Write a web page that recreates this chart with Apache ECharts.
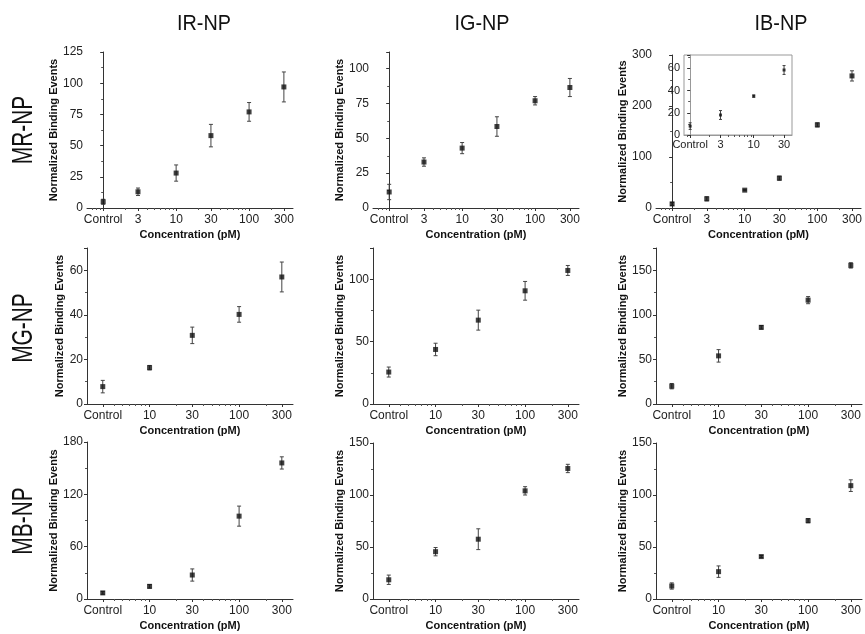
<!DOCTYPE html>
<html>
<head>
<meta charset="utf-8">
<script src="https://cdn.jsdelivr.net/npm/echarts@6/dist/echarts.min.js"></script>
<style>
  html, body { margin: 0; padding: 0; background: #fff; }
  #chart { width: 865px; height: 634px; }
</style>
</head>
<body>
<div id="chart"></div>
<script>
const FONT = '"Liberation Sans", Arial, Helvetica, sans-serif';

// Concentrations (pM) at which each point is plotted; "Control" sits one step left of the lowest dose
const concRow1 = [1, 3, 10, 30, 100, 300];
const labelsRow1 = ['Control', '3', '10', '30', '100', '300'];
const concRows23 = [3, 10, 30, 100, 300];
const labelsRows23 = ['Control', '10', '30', '100', '300'];
const insetConc = [1, 3, 10, 30];
const insetLabels = ['Control', '3', '10', '30'];

const columnTitles = ['IR-NP', 'IG-NP', 'IB-NP'];
const rowTitles = ['MR-NP', 'MG-NP', 'MB-NP'];

// Normalized binding events (mean) and error-bar half widths
const mrIrMean = [5, 13, 28, 58, 77, 97];
const mrIrErr  = [2, 3, 6.5, 9, 7.5, 12];
const mrIgMean = [11.5, 33, 43, 58.5, 77, 86.5];
const mrIgErr  = [5.5, 3, 4, 7, 3, 6.5];
const mrIbMean = [8, 18, 35, 58.5, 163, 259];
const mrIbErr  = [3, 4, 1, 4, 4, 10];

const mgIrMean = [7.8, 16.3, 30.8, 40.2, 57];
const mgIrErr  = [2.8, 1, 3.7, 3.5, 6.7];
const mgIgMean = [25.6, 43.7, 67.2, 90.7, 107];
const mgIgErr  = [4, 5, 8, 7.5, 4];
const mgIbMean = [20, 54, 86, 116.5, 155.5];
const mgIbErr  = [3, 7, 2, 4, 3];

const mbIrMean = [7, 14.5, 27.5, 95, 156];
const mbIrErr  = [1.5, 2, 7, 11.5, 7];
const mbIgMean = [18.5, 45.5, 57.5, 104, 125.5];
const mbIgErr  = [4.5, 4, 10, 4, 4];
const mbIbMean = [12.5, 26.3, 40.8, 75.3, 109];
const mbIbErr  = [3, 5.5, 1, 2, 5.6];

// y-axis range and tick step per panel (rows: MR, MG, MB; columns: IR, IG, IB)
const yMax = [[125, 112, 300], [70, 125, 175], [180, 150, 150]];
const yStep = [[25, 25, 100], [20, 50, 50], [60, 50, 50]];
const insetYMax = 72;
const insetYStep = 20;

// x-axis extents (pM)
const xRangeRow1 = [0.6, 400];
const xRangeRows23 = [2, 400];
const xRangeInset = [0.8, 40];

const means = [[mrIrMean, mrIgMean, mrIbMean], [mgIrMean, mgIgMean, mgIbMean], [mbIrMean, mbIgMean, mbIbMean]];
const errs  = [[mrIrErr, mrIgErr, mrIbErr], [mgIrErr, mgIgErr, mgIbErr], [mbIrErr, mbIgErr, mbIbErr]];

// ---- layout ----
const colLeft = [87, 373, 656];
const plotW = 206;
const gridTop = [[52, 52, 55], [248, 248, 248], [442, 443, 443]];
const gridH = [[156, 156, 153], [156, 156, 156], [157, 156, 156]];
const yNameGap = [[22, 28, 24], [22, 21, 24], [23, 21, 23]];

const lg = v => Math.log10(v);

function minorTicks(range, majors) {
  const out = [];
  [0.1, 1, 10, 100, 1000].forEach(d => {
    for (let k = 1; k <= 9; k++) {
      const v = k * d;
      if (v > range[0] * 1.0001 && v < range[1] * 0.9999 &&
          !majors.some(m => Math.abs(m - v) < 1e-9)) out.push(v);
    }
  });
  return out;
}

function majorTicks(range, conc) {
  const set = conc.slice();
  [1, 10, 100].forEach(d => { if (d >= range[0] && d <= range[1] && set.indexOf(d) < 0) set.push(d); });
  return set;
}

const axisColor = '#333';
const grids = [], xAxes = [], yAxes = [], series = [];

function addPanel(g) {
  const gi = grids.length;
  grids.push(g.grid);
  const xi = xAxes.length;
  const majors = majorTicks(g.range, g.conc);
  xAxes.push({
    gridIndex: gi, type: 'value', position: 'bottom',
    min: lg(g.range[0]), max: lg(g.range[1]),
    axisLine: { show: true, onZero: false, lineStyle: { color: g.lineColor || axisColor, width: 1 } },
    splitLine: { show: false },
    axisTick: { show: true, customValues: majors.map(lg), length: 3, lineStyle: { color: axisColor, width: 1 } },
    axisLabel: {
      customValues: g.conc.map(lg),
      formatter: v => {
        const i = g.conc.findIndex(c => Math.abs(lg(c) - v) < 1e-6);
        return i >= 0 ? g.labels[i] : '';
      },
      fontFamily: FONT, fontSize: g.labelSize, color: '#222', margin: g.xMargin
    },
    name: g.xName || '', nameLocation: 'middle', nameGap: 21,
    nameTextStyle: { fontFamily: FONT, fontSize: 11, fontWeight: 'bold', color: '#111' }
  });
  xAxes.push({
    gridIndex: gi, type: 'value', position: 'bottom',
    min: lg(g.range[0]), max: lg(g.range[1]),
    axisLine: { show: false }, axisLabel: { show: false }, splitLine: { show: false },
    axisTick: { show: true, customValues: minorTicks(g.range, majors).map(lg), length: 2,
                lineStyle: { color: '#555', width: 1 } }
  });
  const yi = yAxes.length;
  yAxes.push({
    gridIndex: gi, type: 'value', min: 0, max: g.yMax, interval: g.yStep,
    axisLine: { show: true, lineStyle: { color: g.lineColor || axisColor, width: 1 } },
    axisTick: { show: true, length: 3, lineStyle: { color: axisColor } },
    minorTick: { show: true, splitNumber: 2, length: 2, lineStyle: { color: '#555' } },
    splitLine: { show: false }, minorSplitLine: { show: false },
    axisLabel: {
      formatter: v => (Math.abs(v % g.yStep) < 1e-9 ? String(v) : ''),
      fontFamily: FONT, fontSize: g.labelSize, color: '#222', margin: 4
    },
    name: g.yName || '', nameLocation: 'middle', nameGap: g.yGap,
    nameTextStyle: { fontFamily: FONT, fontSize: 11, fontWeight: 'bold', color: '#111' }
  });
  const pts = g.conc.map((c, i) => [lg(c), g.mean[i]]);
  const bars = g.conc.map((c, i) => [lg(c), g.mean[i] - g.err[i], g.mean[i] + g.err[i]]);
  series.push({
    type: 'custom', xAxisIndex: xi, yAxisIndex: yi, data: bars, z: 2,
    encode: { x: 0, y: [1, 2] },
    renderItem: (params, api) => {
      const x = api.value(0);
      const lo = api.coord([x, api.value(1)]);
      const hi = api.coord([x, api.value(2)]);
      const cw = g.cap;
      const st = { stroke: '#444', lineWidth: 1 };
      return {
        type: 'group',
        children: [
          { type: 'line', shape: { x1: lo[0], y1: lo[1], x2: hi[0], y2: hi[1] }, style: st },
          { type: 'line', shape: { x1: hi[0] - cw, y1: hi[1], x2: hi[0] + cw, y2: hi[1] }, style: st },
          { type: 'line', shape: { x1: lo[0] - cw, y1: lo[1], x2: lo[0] + cw, y2: lo[1] }, style: st }
        ]
      };
    }
  });
  series.push({
    type: 'scatter', xAxisIndex: xi, yAxisIndex: yi, data: pts, z: 3,
    symbol: 'rect', symbolSize: g.markSize, itemStyle: { color: '#111' },
    emphasis: { disabled: true }
  });
}

for (let r = 0; r < 3; r++) {
  for (let c = 0; c < 3; c++) {
    addPanel({
      grid: { left: colLeft[c], top: gridTop[r][c], width: plotW, height: gridH[r][c] },
      range: r === 0 ? xRangeRow1 : xRangeRows23,
      conc: r === 0 ? concRow1 : concRows23,
      labels: r === 0 ? labelsRow1 : labelsRows23,
      mean: means[r][c], err: errs[r][c],
      yMax: yMax[r][c], yStep: yStep[r][c], yGap: yNameGap[r][c],
      xName: 'Concentration (pM)', yName: 'Normalized Binding Events',
      labelSize: 12, xMargin: 6, markSize: 5, cap: 2
    });
  }
}

// inset: low-dose detail for MR-NP / IB-NP
addPanel({
  grid: { left: 684, top: 55, width: 108, height: 80, show: true, borderColor: '#999', borderWidth: 1, backgroundColor: '#fff' },
  range: xRangeInset, conc: insetConc, labels: insetLabels,
  mean: mrIbMean.slice(0, insetConc.length), err: mrIbErr.slice(0, insetConc.length),
  yMax: insetYMax, yStep: insetYStep, yGap: 0,
  labelSize: 11, xMargin: 4, markSize: 3, cap: 1.5, lineColor: '#999'
});

const colTitleX = [204, 482, 781];
const rowTitleY = [130, 328, 521];
const graphic = [];
columnTitles.forEach((t, i) => graphic.push({
  type: 'text', x: colTitleX[i], y: 24, scaleX: 0.9,
  style: { text: t, font: '22px ' + FONT, fill: '#111', textAlign: 'center', textVerticalAlign: 'middle' }
}));
rowTitles.forEach((t, i) => graphic.push({
  type: 'text', x: 24, y: rowTitleY[i], rotation: Math.PI / 2, scaleX: 0.72,
  style: { text: t, font: '29px ' + FONT, fill: '#111', textAlign: 'center', textVerticalAlign: 'middle' }
}));

const chart = echarts.init(document.getElementById('chart'), null, { renderer: 'canvas' });
chart.setOption({
  animation: false,
  backgroundColor: '#fff',
  textStyle: { fontFamily: FONT },
  grid: grids, xAxis: xAxes, yAxis: yAxes, series: series, graphic: graphic
});
</script>
</body>
</html>
